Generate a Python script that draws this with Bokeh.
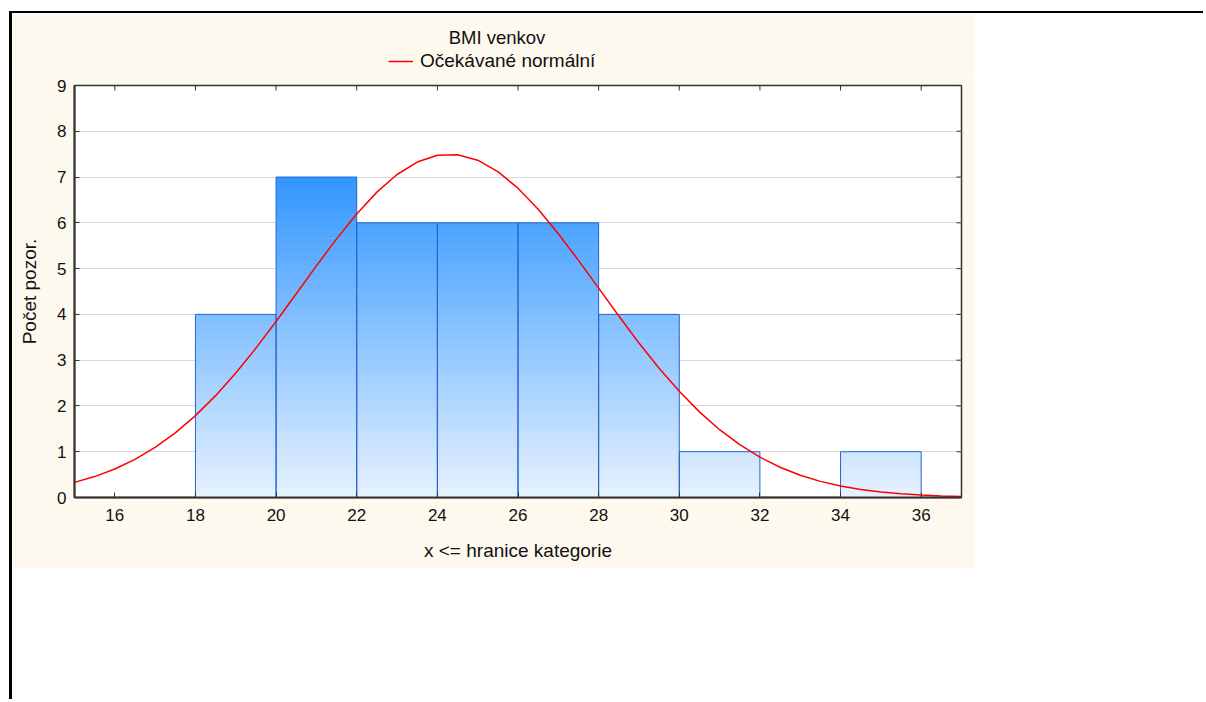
import numpy as np
from bokeh.plotting import figure
from bokeh.layouts import column
from bokeh.models import (Range1d, LinearAxis, FixedTicker, Legend, LegendItem,
                          ColumnDataSource, Grid, Label)
from bokeh.embed import file_html
from bokeh.resources import INLINE

# ---------------- data ----------------
title_text = "BMI venkov"
legend_text = "Očekávané normální"
x_label = "x <= hranice kategorie"
y_label = "Počet pozor."

bin_left = [16, 18, 20, 22, 24, 26, 28, 30, 32, 34]
bin_right = [18, 20, 22, 24, 26, 28, 30, 32, 34, 36]
counts = [0, 4, 7, 6, 6, 6, 4, 1, 0, 1]

x_ticks = [16, 18, 20, 22, 24, 26, 28, 30, 32, 34, 36]
y_ticks = [0, 1, 2, 3, 4, 5, 6, 7, 8, 9]

# expected normal curve
normal_x = [15, 15.5, 16, 16.5, 17, 17.5, 18, 18.5, 19, 19.5, 20, 20.5, 21, 21.5,
            22, 22.5, 23, 23.5, 24, 24.5, 25, 25.5, 26, 26.5, 27, 27.5, 28, 28.5,
            29, 29.5, 30, 30.5, 31, 31.5, 32, 32.5, 33, 33.5, 34, 34.5, 35, 35.5,
            36, 36.5, 37]
normal_y = [0.330, 0.457, 0.622, 0.833, 1.093, 1.411, 1.788, 2.225, 2.718, 3.262,
            3.845, 4.451, 5.060, 5.650, 6.195, 6.671, 7.056, 7.328, 7.476, 7.489,
            7.369, 7.120, 6.757, 6.297, 5.763, 5.180, 4.573, 3.965, 3.376, 2.824,
            2.319, 1.870, 1.481, 1.153, 0.881, 0.661, 0.487, 0.352, 0.250, 0.175,
            0.120, 0.081, 0.053, 0.035, 0.022]

X0, X1 = 15, 37
Y0, Y1 = 0, 9

# ---------------- layout (pixels) ----------------
PW = 963                 # cream panel width
HH = 60                  # header strip height (title + legend)
MH = 495                 # main plot height
FL, FR, FT, FB = 62, 949, 12, 424  # plot frame inside the main plot
FONT = "Liberation Sans"
CREAM = "#fdf9ef"
AX_COL = "#333333"
TXT = "#111111"
RED = "#ff0000"
TICK_PX = 5

# ---------------- header: title and legend ----------------
h = figure(width=PW, height=HH, output_backend="svg", toolbar_location=None,
           x_range=Range1d(FL, FR), y_range=Range1d(HH, 0),
           min_border_left=FL, min_border_right=PW - FR,
           min_border_top=0, min_border_bottom=0,
           x_axis_type=None, y_axis_type=None)
h.border_fill_color = CREAM
h.background_fill_color = CREAM
h.outline_line_color = None
h.xgrid.visible = False
h.ygrid.visible = False
key_line = h.line(x=np.array([np.nan]), y=np.array([np.nan]),
                  line_color=RED, line_width=1.5)
h.add_layout(Label(x=484.5, y=24, text=title_text, text_align="center",
                   text_baseline="middle", text_font=FONT, text_font_size="18.5px",
                   text_color=TXT))
h.add_layout(Legend(items=[LegendItem(label=legend_text, renderers=[key_line])],
                    location=(376 - FL, HH - 59), orientation="horizontal",
                    border_line_color=None, background_fill_alpha=0,
                    padding=0, margin=0, spacing=0,
                    glyph_width=25, glyph_height=20, label_height=20, label_standoff=7,
                    label_text_font=FONT, label_text_font_size="19px",
                    label_text_color=TXT))

# ---------------- main histogram ----------------
p = figure(width=PW, height=MH, output_backend="svg", toolbar_location=None,
           x_range=Range1d(X0, X1), y_range=Range1d(Y0, Y1),
           min_border_left=FL, min_border_right=PW - FR,
           min_border_top=FT, min_border_bottom=MH - FB,
           x_axis_type=None, y_axis_type=None)
p.border_fill_color = CREAM
p.background_fill_color = "white"
p.outline_line_color = AX_COL
p.outline_line_width = 1.5

xa = LinearAxis(ticker=FixedTicker(ticks=x_ticks), axis_label=x_label)
ya = LinearAxis(ticker=FixedTicker(ticks=y_ticks), axis_label=y_label)
for ax in (xa, ya):
    ax.major_tick_in = TICK_PX
    ax.major_tick_out = 0
    ax.minor_tick_line_color = None
    ax.major_tick_line_color = AX_COL
    ax.axis_line_color = AX_COL
    ax.axis_line_width = 2
    ax.major_label_text_font = FONT
    ax.major_label_text_font_size = "17px"
    ax.major_label_text_color = TXT
    ax.axis_label_text_font = FONT
    ax.axis_label_text_font_size = "19px"
    ax.axis_label_text_font_style = "normal"
    ax.axis_label_text_color = TXT
xa.major_label_standoff = 11
xa.axis_label_standoff = 16
ya.major_label_standoff = 8
ya.axis_label_standoff = 14
p.add_layout(xa, "below")
p.add_layout(ya, "left")

p.add_layout(Grid(dimension=1, ticker=FixedTicker(ticks=y_ticks),
                  grid_line_color="#d9d9d9", grid_line_width=1))

# gradient-filled bars (horizontal slices)
STEP = 0.025
ymax = max(counts)
c_bot = np.array([230, 242, 255])
c_top = np.array([50, 150, 255])
sl = dict(left=[], right=[], bottom=[], top=[], color=[])
for l, r, c in zip(bin_left, bin_right, counts):
    n = int(round(c / STEP))
    for k in range(n):
        b = k * STEP
        t = min(c, b + 1.6 * STEP)
        f = (b + STEP / 2) / ymax
        rgb = (c_bot + (c_top - c_bot) * f).round().astype(int)
        sl["left"].append(l)
        sl["right"].append(r)
        sl["bottom"].append(b)
        sl["top"].append(t)
        sl["color"].append("#%02x%02x%02x" % tuple(rgb))
p.quad(left="left", right="right", bottom="bottom", top="top",
       fill_color="color", line_color=None, source=ColumnDataSource(sl))

p.quad(left=bin_left, right=bin_right, bottom=[0] * len(counts), top=counts,
       fill_color=None, line_color="#2464d2", line_width=1)

p.line(normal_x, normal_y, line_color=RED, line_width=1.5)

# inward ticks on the top and right frame edges
tx = TICK_PX * (X1 - X0) / (FR - FL)
ty = TICK_PX * (Y1 - Y0) / (FB - FT)
p.segment(x0=x_ticks, y0=[Y1] * len(x_ticks), x1=x_ticks, y1=[Y1 - ty] * len(x_ticks),
          line_color=AX_COL, line_width=1)
p.segment(x0=[X1] * len(y_ticks), y0=y_ticks, x1=[X1 - tx] * len(y_ticks), y1=y_ticks,
          line_color=AX_COL, line_width=1)

root = column(h, p, spacing=0, width=1194, height=688,
              styles={"margin-left": "9px", "margin-top": "11px",
                      "border-left": "3px solid black", "border-top": "2px solid black"})

open("out.html", "w").write(file_html(root, INLINE))
